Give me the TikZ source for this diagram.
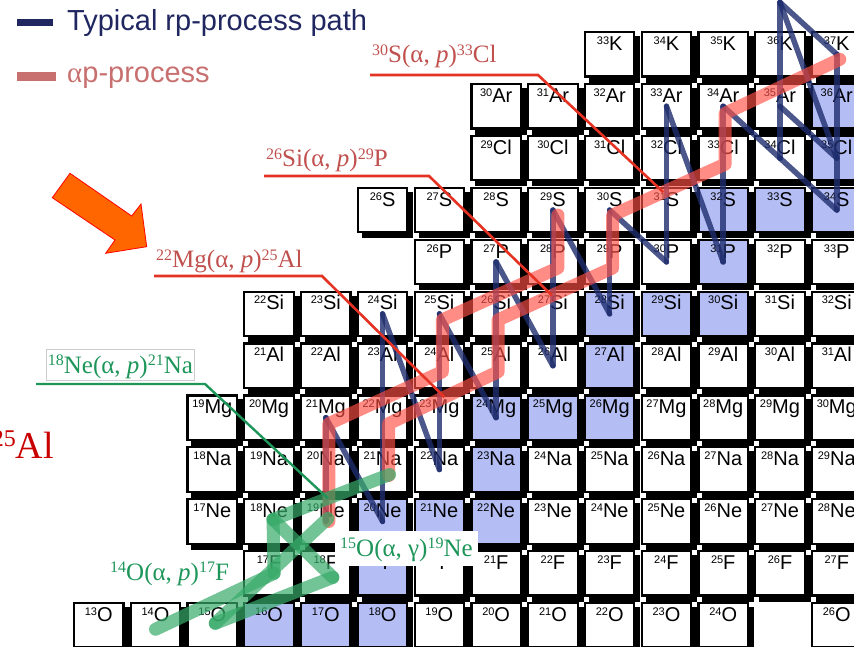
\documentclass[tikz,border=0pt]{standalone}
\usepackage{fontspec}
\setmainfont{Liberation Serif}
\newfontfamily\sansfont{Liberation Sans}
\usetikzlibrary{calc}
\pgfdeclarelayer{shade}
\pgfsetlayers{shade,main}

\definecolor{stab}{RGB}{180,190,245}
\definecolor{navy}{RGB}{32,38,96}
\definecolor{rpblue}{RGB}{30,45,110}
\definecolor{aprose}{RGB}{200,112,112}
\definecolor{apred}{RGB}{255,80,70}
\definecolor{labred}{RGB}{192,80,77}
\definecolor{leadred}{RGB}{228,50,35}
\definecolor{hgreen}{RGB}{55,170,105}
\definecolor{labgreen}{RGB}{30,150,90}
\definecolor{arroworange}{RGB}{255,102,0}
\definecolor{dkred}{RGB}{200,0,0}

% small raised mass numbers
\newcommand\bsup[1]{{\fontsize{11}{11}\selectfont\raisebox{6pt}{#1}}}
\newcommand\rsup[1]{{\fontsize{16}{16}\selectfont\raisebox{7.5pt}{#1}}}

\begin{document}
\begin{tikzpicture}[x=1pt,y=-1pt,
  nucbox/.style={draw=black, line width=2.2pt, inner sep=0pt,
    minimum width=49.4pt, minimum height=44.4pt, text height=18.3pt, text depth=26.1pt,
    font=\sansfont\fontsize{20}{20}\selectfont},
  rp/.style={draw=rpblue, line width=5.5pt, opacity=0.8, line cap=round, line join=round},
  ap/.style={draw=apred, line width=13pt, opacity=0.65, line cap=round, line join=round},
  hcno/.style={draw=hgreen, line width=13pt, opacity=0.7, line cap=round},
  rleader/.style={draw=leadred, line width=2.6pt},
  gleader/.style={draw=labgreen, line width=2.4pt},
  rlab/.style={text=labred, font=\fontsize{25}{25}\selectfont, inner xsep=2pt,
    text depth=0pt, anchor=south west},
  glab/.style={text=labgreen, font=\fontsize{25}{25}\selectfont},
]
\useasboundingbox (0,0) rectangle (854,647);

% stable nuclei, tagged as Z-N
\foreach \s in {8-8,8-9,8-10,9-10,10-10,10-11,10-12,11-12,12-12,12-13,12-14,13-14,
                14-14,14-15,14-16,15-16,16-16,16-17,16-18,17-18,18-18}
  {\expandafter\gdef\csname st\s\endcsname{}}

% chart of nuclides: rows of Z, columns of N
\foreach \Z/\el/\nlo/\nhi in {8/O/5/16,9/F/8/18,10/Ne/7/18,11/Na/7/18,12/Mg/7/18,
    13/Al/8/18,14/Si/8/18,15/P/11/18,16/S/10/18,17/Cl/12/18,18/Ar/12/18,19/K/14/18}{
  \foreach \N in {\nlo,...,\nhi}{
    \pgfmathtruncatemacro\A{\Z+\N}
    \pgfmathsetmacro\cx{98.75+(\N-5)*56.77}
    \pgfmathsetmacro\cy{625.25-(\Z-8)*51.9}
    \ifcsname st\Z-\N\endcsname\def\bfill{stab}\else\def\bfill{white}\fi
    \node[nucbox, fill=\bfill] (n\Z-\N) at (\cx,\cy) {\bsup{\A}\el};
    \begin{pgfonlayer}{shade}
      \fill ([shift={(5,5)}]n\Z-\N.north west) rectangle ([shift={(5,5)}]n\Z-\N.south east);
    \end{pgfonlayer}
  }
}
\pgfmathsetmacro\cx{98.75+13*56.77}
\node[nucbox, fill=white] (n8-18) at (\cx,625.25) {\bsup{26}O};
\begin{pgfonlayer}{shade}
  \fill ([shift={(5,5)}]n8-18.north west) rectangle ([shift={(5,5)}]n8-18.south east);
\end{pgfonlayer}
% 37Ca sits one row above 36K, outside the drawn chart
\coordinate (ca37) at ([shift={(0,-51.9)}]n19-17.center);

% ---- rp-process path (proton captures up, beta decays down-right)
\foreach \a/\b in {n10-9/n12-9, n12-9/n10-10,
    n10-10/n14-10, n14-10/n11-11,
    n11-11/n14-11, n14-11/n12-12,
    n12-12/n15-12, n15-12/n13-13,
    n13-13/n16-13, n16-13/n14-14,
    n14-14/n16-14, n16-14/n15-15,
    n15-15/n18-15, n18-15/n15-16,
    n15-16/n18-16, n18-16/n17-17,
    n17-17/ca37, n17-17/n16-18,
    ca37/n19-18, ca37/n17-18, n18-17/n17-18,
    n16-18/n19-18}
  \draw[rp] (\a.center) -- (\b.center);

% ---- alpha-p process chains
\coordinate (rA1) at ([shift={(3,0)}]n10-9.center);
\coordinate (rA2) at ([shift={(3,6)}]n12-9.center);
\coordinate (rA3) at ([shift={(3,6)}]n13-11.center);
\coordinate (rA4) at ([shift={(3,6)}]n14-11.center);
\coordinate (rA5) at ([shift={(5,6)}]n15-13.center);
\coordinate (rA6) at ([shift={(5,5)}]n16-13.center);
\coordinate (rB1) at ([shift={(6,6)}]n11-10.center);
\coordinate (rB2) at ([shift={(6,6)}]n12-10.center);
\coordinate (rB3) at ([shift={(2,6)}]n13-12.center);
\coordinate (rB4) at ([shift={(2,6)}]n14-12.center);
\coordinate (rB5) at ([shift={(3,6)}]n15-14.center);
\coordinate (rB6) at ([shift={(3,5)}]n16-14.center);
\coordinate (rB7) at ([shift={(2,6)}]n17-16.center);
\coordinate (rB8) at ([shift={(2,7)}]n18-16.center);
\coordinate (rB9) at ([shift={(3,5)}]n19-18.center);
\draw[ap] (rA1) -- (rA2) -- (rA3) -- (rA4) -- (rA5) -- (rA6);
\draw[ap] (rB1) -- (rB2) -- (rB3) -- (rB4) -- (rB5) -- (rB6) -- (rB7) -- (rB8) -- (rB9);

% ---- hot CNO breakout
\coordinate (g14O)  at ([shift={(0,4)}]n8-6.center);
\coordinate (g17F)  at ([shift={(5,0)}]n9-8.center);
\coordinate (g18Ne) at ([shift={(4,-2)}]n10-8.center);
\coordinate (g18F)  at ([shift={(7,4)}]n9-9.center);
\coordinate (g15O)  at ([shift={(3,-2)}]n8-7.center);
\coordinate (g19Ne) at ([shift={(2,-3)}]n10-9.center);
\coordinate (g21Na) at ([shift={(7,5)}]n11-10.center);
\foreach \a/\b in {g14O/g17F, g17F/g18Ne, g18Ne/g21Na, g18Ne/g18F, g18F/g15O, g15O/g19Ne}
  \draw[hcno] (\a) -- (\b);

% ---- reaction labels with leaders
\node[rlab, inner ysep=12pt] (lab30S) at (370,75) {\rsup{30}S(α, \textit{p})\rsup{33}Cl};
\coordinate (k30S) at (538,75);
\draw[rleader] (lab30S.south west) -- (k30S) -- ($(rB6)!0.45!(rB7)$);

\node[rlab, inner ysep=9pt] (lab26Si) at (264,176) {\rsup{26}Si(α, \textit{p})\rsup{29}P};
\coordinate (k26Si) at (429,176);
\draw[rleader] (lab26Si.south west) -- (k26Si) -- ($(rB4)!0.47!(rB5)$);

\node[rlab, inner ysep=8pt] (lab22Mg) at (154,276) {\rsup{22}Mg(α, \textit{p})\rsup{25}Al};
\coordinate (k22Mg) at (322,276);
\draw[rleader] (lab22Mg.south west) -- (k22Mg) -- ($(rB2)!0.51!(rB3)$);

\node[glab, draw=black!20, line width=0.8pt, inner xsep=1.5pt, inner ysep=7pt,
  text height=17pt, text depth=0pt, anchor=base west] (lab18Ne) at (46,373)
  {\rsup{18}Ne(α, \textit{p})\rsup{21}Na};
\coordinate (u18a) at (36,384);
\coordinate (u18b) at (205,384);
\draw[gleader] (u18a) -- (u18b) -- ($(g18Ne)!0.47!(g21Na)$);

\node[glab, anchor=base west, inner sep=0pt] (lab14O) at (110,580)
  {\rsup{14}O(α, \textit{p})\rsup{17}F};
\node[glab, anchor=base west, fill=white, inner xsep=5pt, inner ysep=5pt,
  text height=20pt, text depth=5pt] (lab15O) at (335,556)
  {\rsup{15}O(α, γ)\rsup{19}Ne};

\node[text=dkred, anchor=base east, inner sep=0pt, font=\fontsize{38}{38}\selectfont]
  (edge25Al) at (54,458) {{\fontsize{24}{24}\selectfont\raisebox{12pt}{25}}Al};

% ---- legend
\coordinate (lg1a) at (17,22.5); \coordinate (lg1b) at (53,22.5);
\draw[navy, line width=6.5pt] (lg1a) -- (lg1b);
\node[text=navy, anchor=base west, inner sep=0pt, font=\sansfont\fontsize{29}{29}\selectfont]
  (legrp) at (67,31) {Typical rp-process path};
\coordinate (lg2a) at (17,77); \coordinate (lg2b) at (56,77);
\draw[aprose, line width=9pt] (lg2a) -- (lg2b);
\node[text=aprose, anchor=base west, inner sep=0pt, font=\sansfont\fontsize{29}{29}\selectfont]
  (legap) at (67,83) {{\rmfamily α}p-process};

% ---- pointer arrow
\filldraw[fill=arroworange, draw=red, line width=0.8pt]
  (70,173.3) -- (131.7,216) -- (141,204) -- (146.7,246.7) -- (105.7,253.3)
  -- (115,240) -- (52.3,197.7) -- cycle;
\end{tikzpicture}
\end{document}
